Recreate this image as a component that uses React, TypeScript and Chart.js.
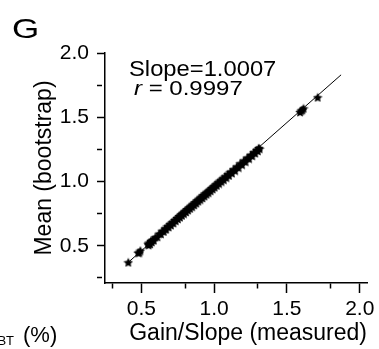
import React, { useEffect, useRef } from "react";
import { Chart, registerables } from "chart.js";

Chart.register(...registerables);

const FONT = '"Liberation Sans", Arial, Helvetica, sans-serif';

// Measured gain/slope (x) vs. bootstrap mean (y)
const gainMeasured = [
  0.41, 0.478, 0.486, 0.493, 0.545, 0.549, 0.555, 0.56, 0.566, 0.571,
  0.578, 0.585, 0.596, 0.61, 0.622, 0.634, 0.645, 0.654, 0.662, 0.67,
  0.679, 0.687, 0.695, 0.703, 0.712, 0.72, 0.728, 0.736, 0.744, 0.751,
  0.758, 0.765, 0.772, 0.779, 0.786, 0.793, 0.8, 0.807, 0.814, 0.821,
  0.828, 0.835, 0.842, 0.849, 0.856, 0.863, 0.87, 0.877, 0.884, 0.891,
  0.898, 0.905, 0.912, 0.919, 0.926, 0.933, 0.94, 0.947, 0.954, 0.961,
  0.968, 0.975, 0.982, 0.989, 0.996, 1.003, 1.01, 1.018, 1.026, 1.034,
  1.042, 1.05, 1.058, 1.066, 1.075, 1.084, 1.093, 1.102, 1.112, 1.122,
  1.133, 1.144, 1.156, 1.168, 1.18, 1.192, 1.204, 1.216, 1.228, 1.24,
  1.252, 1.262, 1.272, 1.282, 1.292, 1.3, 1.306, 1.312,
  1.59, 1.598, 1.606, 1.614, 1.711,
];
const meanBootstrap = [
  0.371, 0.446, 0.447, 0.462, 0.516, 0.505, 0.525, 0.514, 0.538, 0.529,
  0.546, 0.543, 0.566, 0.569, 0.594, 0.592, 0.617, 0.611, 0.634, 0.628,
  0.652, 0.645, 0.668, 0.66, 0.683, 0.676, 0.7, 0.694, 0.716, 0.709,
  0.731, 0.722, 0.745, 0.736, 0.758, 0.75, 0.772, 0.763, 0.786, 0.777,
  0.8, 0.79, 0.813, 0.804, 0.827, 0.818, 0.84, 0.831, 0.855, 0.846,
  0.868, 0.859, 0.882, 0.872, 0.895, 0.886, 0.909, 0.9, 0.922, 0.913,
  0.936, 0.927, 0.95, 0.941, 0.963, 0.955, 0.978, 0.969, 0.993, 0.984,
  1.008, 0.999, 1.023, 1.014, 1.039, 1.03, 1.057, 1.047, 1.075, 1.065,
  1.095, 1.085, 1.117, 1.108, 1.141, 1.131, 1.163, 1.154, 1.186, 1.178,
  1.208, 1.2, 1.228, 1.22, 1.246, 1.238, 1.261, 1.255,
  1.54, 1.552, 1.558, 1.569, 1.655,
];

// Fitted line end points
const fitLineX = [0.41, 1.872];
const fitLineY = [0.371, 1.83];

const xMajorTicks = [0.5, 1.0, 1.5, 2.0];
const xMinorTicks = [0.3, 0.8, 1.3, 1.8];
const yMajorTicks = [0.5, 1.0, 1.5, 2.0];
const yMinorTicks = [0.25, 0.75, 1.25, 1.75];
const xLimits = [0.25, 2.05];
const yLimits = [0.21, 2.0];

const xTitle = "Gain/Slope (measured)";
const yTitle = "Mean (bootstrap)";
const slopeText = "Slope=1.0007";
const rLabel = "r";
const rValueText = " = 0.9997";
const panelLetter = "G";
const strayLabelSub = "BT";
const strayLabelMain = "(%)";

const isIn = (list: number[], v: number) => list.some((t) => Math.abs(t - v) < 1e-6);

function makeStar(size: number): HTMLCanvasElement {
  const c = document.createElement("canvas");
  c.width = size;
  c.height = size;
  const ctx = c.getContext("2d")!;
  const cx = size / 2;
  const cy = size / 2 + 0.5;
  const R = size / 2;
  const r = R * 0.5;
  ctx.beginPath();
  for (let i = 0; i < 10; i++) {
    const ang = -Math.PI / 2 + (i * Math.PI) / 5;
    const rad = i % 2 === 0 ? R : r;
    ctx.lineTo(cx + rad * Math.cos(ang), cy + rad * Math.sin(ang));
  }
  ctx.closePath();
  ctx.fillStyle = "#000";
  ctx.fill();
  return c;
}

const textPlugin = {
  id: "panelTexts",
  afterDraw(chart: any) {
    const ctx = chart.ctx as CanvasRenderingContext2D;
    ctx.save();
    ctx.fillStyle = "#000";
    ctx.textBaseline = "alphabetic";
    ctx.textAlign = "left";

    ctx.save();
    ctx.translate(12, 37.5);
    ctx.scale(1.25, 1);
    ctx.font = `28px ${FONT}`;
    ctx.fillText(panelLetter, 0, 0);
    ctx.restore();

    ctx.font = `13px ${FONT}`;
    ctx.textAlign = "right";
    ctx.fillText(strayLabelSub, 14, 345);
    ctx.textAlign = "left";
    ctx.font = `22px ${FONT}`;
    ctx.fillText(strayLabelMain, 23, 342);
    ctx.restore();
  },
};

export default function App() {
  const ref = useRef<HTMLCanvasElement>(null);

  useEffect(() => {
    const canvas = ref.current;
    if (!canvas) return;
    const star = makeStar(10);
    const tickFont = { family: FONT, size: 21 };
    const titleFont = { family: FONT, size: 23 };

    const chart = new Chart(canvas, {
      type: "scatter",
      data: {
        datasets: [
          {
            type: "line",
            data: fitLineX.map((x, i) => ({ x, y: fitLineY[i] })),
            borderColor: "#000",
            borderWidth: 1,
            pointRadius: 0,
            fill: false,
            order: 2,
          } as any,
          {
            data: gainMeasured.map((x, i) => ({ x, y: meanBootstrap[i] })),
            pointStyle: star as any,
            pointRadius: 5,
            backgroundColor: "#000",
            borderColor: "#000",
            order: 1,
          },
        ],
      },
      options: {
        animation: false,
        responsive: false,
        devicePixelRatio: 1,
        events: [],
        layout: { padding: { top: 53, right: 12, bottom: 0, left: 0 } },
        plugins: { legend: { display: false }, tooltip: { enabled: false } },
        scales: {
          x: {
            type: "linear",
            position: "bottom",
            min: xLimits[0],
            max: xLimits[1],
            afterBuildTicks: (s: any) => {
              s.ticks = [...xMajorTicks, ...xMinorTicks]
                .sort((a, b) => a - b)
                .map((value) => ({ value }));
            },
            afterFit: (s: any) => {
              s.height = 66;
              s.paddingLeft = 0;
              s.paddingRight = 0;
            },
            ticks: {
              autoSkip: false,
              maxRotation: 0,
              padding: 4,
              color: "#000",
              font: tickFont,
              callback: (v: any) => (isIn(xMajorTicks, Number(v)) ? Number(v).toFixed(1) : ""),
            },
            grid: {
              drawOnChartArea: false,
              drawTicks: true,
              tickLength: 10,
              tickWidth: 1.5,
              tickColor: "#000",
              tickBorderDash: (c: any) =>
                c.tick && isIn(xMajorTicks, c.tick.value) ? [] : [5, 40],
            } as any,
            border: { display: true, color: "#000", width: 1.5 },
            title: {
              display: true,
              text: xTitle,
              align: "end",
              color: "#000",
              font: titleFont,
              padding: { top: 0, bottom: 2 },
            },
          },
          y: {
            type: "linear",
            position: "left",
            min: yLimits[0],
            max: yLimits[1],
            afterBuildTicks: (s: any) => {
              s.ticks = [...yMajorTicks, ...yMinorTicks]
                .sort((a, b) => a - b)
                .map((value) => ({ value }));
            },
            afterFit: (s: any) => {
              s.width = 105;
              s.paddingTop = 0;
              s.paddingBottom = 0;
            },
            ticks: {
              autoSkip: false,
              padding: 8,
              color: "#000",
              font: tickFont,
              callback: (v: any) => (isIn(yMajorTicks, Number(v)) ? Number(v).toFixed(1) : ""),
            },
            grid: {
              drawOnChartArea: false,
              drawTicks: true,
              tickLength: 8,
              tickWidth: 1.5,
              tickColor: "#000",
              tickBorderDash: (c: any) =>
                c.tick && isIn(yMajorTicks, c.tick.value) ? [] : [5, 40],
            } as any,
            border: { display: true, color: "#000", width: 1.5 },
            title: {
              display: true,
              text: yTitle,
              color: "#000",
              font: titleFont,
              padding: { top: 31, bottom: 0 },
            },
          },
        },
      },
      plugins: [textPlugin],
    } as any);

    return () => chart.destroy();
  }, []);

  const noteBase: React.CSSProperties = {
    position: "absolute",
    fontFamily: FONT,
    color: "#000",
    whiteSpace: "pre",
    transformOrigin: "left top",
    margin: 0,
  };

  return (
    <div style={{ position: "fixed", left: 0, top: 0, width: 379, height: 349, background: "#fff" }}>
      <canvas ref={ref} width={379} height={349} style={{ display: "block", width: 379, height: 349 }} />
      <div
        style={{
          ...noteBase,
          left: 129,
          top: 58.4,
          fontSize: 22,
          lineHeight: "22px",
          transform: "scaleX(1.08)",
        }}
      >
        {slopeText}
      </div>
      <div
        style={{
          ...noteBase,
          left: 134,
          top: 78.3,
          fontSize: 20,
          lineHeight: "20px",
          transform: "scaleX(1.2)",
        }}
      >
        <i>{rLabel}</i>
        {rValueText}
      </div>
    </div>
  );
}
